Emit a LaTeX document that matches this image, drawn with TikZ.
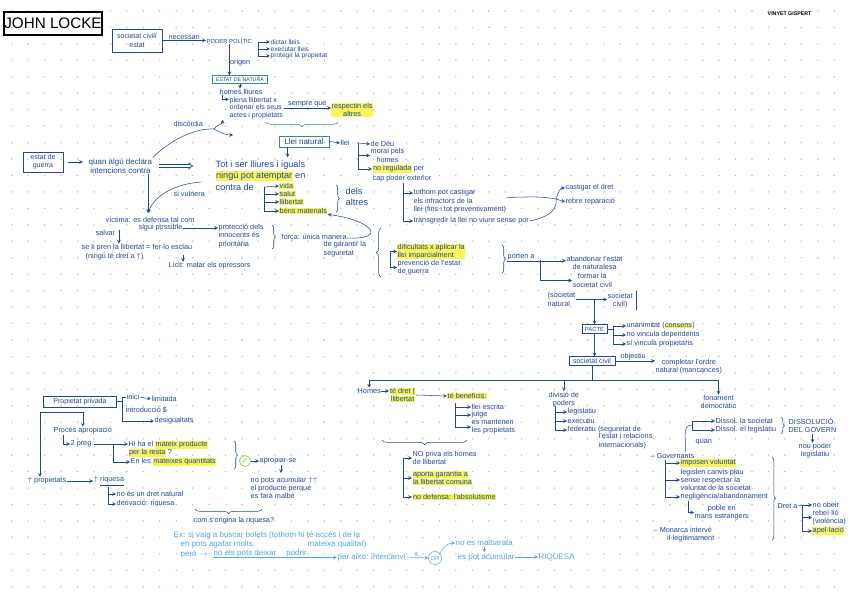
\documentclass[tikz,border=0pt]{standalone}
\usepackage{fontspec}
\setmainfont{Liberation Sans}
\newfontfamily\dejavu{DejaVu Sans}
\usepackage{xcolor}
\usepackage{tikz}
\usetikzlibrary{shapes,arrows,arrows.meta,positioning,fit,backgrounds,decorations.pathreplacing,calc}

\definecolor{ink}{RGB}{34,70,150}
\definecolor{skyc}{RGB}{80,165,235}
\definecolor{hiyel}{RGB}{248,245,90}
\definecolor{grn}{RGB}{50,145,110}
\definecolor{chkgrn}{RGB}{150,200,50}
\definecolor{dotgray}{RGB}{185,185,185}

\newcommand{\hlt}[1]{{\setlength{\fboxsep}{0.3pt}\colorbox{hiyel}{#1}}}

\begin{document}
\begin{tikzpicture}[x=0.3mm, y=-0.3mm, >=stealth, color=ink, line width=0.45pt,
  lbl/.style={font=\fontsize{6.2}{7}\selectfont, text=ink, inner sep=0.4pt, align=left},
  txt/.style={lbl, anchor=west},
  hl/.style={txt, fill=hiyel},
  bbox/.style={draw=ink, line width=0.6pt, font=\fontsize{6}{7}\selectfont, text=ink, inner sep=1pt, align=center},
  gbox/.style={draw=grn, line width=0.6pt, text=ink, inner sep=0.5pt, align=center},
  big/.style={font=\fontsize{7.8}{9}\selectfont},
  exnote/.style={txt, text=skyc, font=\fontsize{6.8}{8}\selectfont},
  brc/.style={draw=ink, decorate, decoration={brace, amplitude=3pt}}
]
\useasboundingbox (0,0) rectangle (848,599);
\fill[white] (0,0) rectangle (848,599);
% dot grid
\foreach \i in {0,...,50}
  \foreach \j in {0,...,35}
    \fill[dotgray] ({11.7+16.45*\i},{11+16.45*\j}) circle (0.8);

% title
\node[draw=black, line width=0.9pt, text=black, font=\fontsize{13}{14}\selectfont,
  minimum width=29.4mm, minimum height=6.9mm, inner sep=0] (title) at (53,23.5) {JOHN LOCKE};
\node[txt, text=black, font=\fontsize{4.5}{5}\selectfont\bfseries] (author) at (767,14) {VINYET GISPERT};

% poder politic
\node[bbox, minimum width=15mm, minimum height=6.9mm] (estat) at (137,40.5) {societat civil/\\estat};
\node[txt, font=\fontsize{5}{6}\selectfont] (poder) at (206,41) {PODER POLÍTIC};
\draw[->] (estat.east) -- node[above, lbl] {necessari} (estat.east -| poder.west);
\coordinate (pob) at (258,42);
\node[txt, font=\fontsize{5.6}{6}\selectfont] (dictar) at (270,42) {dictar lleis};
\node[txt, font=\fontsize{5.6}{6}\selectfont] (execl) at (270,49) {executar lleis};
\node[txt, font=\fontsize{5.6}{6}\selectfont] (protegir) at (270,56) {protegir la propietat};
\draw[->] (pob) -- (dictar.west);
\draw[->] (pob) |- (execl.west);
\draw[->] (pob) |- (protegir.west);

% estat de natura
\node[gbox, minimum width=16.5mm, minimum height=2.3mm, font=\fontsize{4.5}{5}\selectfont] (ednat) at (240,79.5) {ESTAT DE NATURA};
\draw[->] (poder.south) -- node[right, lbl, pos=0.6] {origen} (poder.south |- ednat.north);
\node[txt] (hlliures) at (219,92) {homes lliures};
\draw[->] (ednat.south) -- (ednat.south |- hlliures.north);
\node[txt, font=\fontsize{6}{6.6}\selectfont] (plena) at (229,108) {plena llibertat x\\ordenar els seus\\actes i propietats};
\draw[->] ($(hlliures.south west)+(3,0)$) |- ($(plena.north west)+(0,3)$);
\node[hl, align=center] (respect) at (331,110) {respectin els\\altres};
\draw[->] (plena.east) -- node[above, lbl] {sempre que} (plena.east -| respect.west);
\draw[brc, draw=grn, decoration={brace, mirror, amplitude=4pt}] (266,122) -- (338,122);

% llei natural
\node[gbox, font=\fontsize{6.8}{7}\selectfont, minimum width=15mm, minimum height=3.3mm] (llnat) at (304,141.5) {Llei natural};
\draw[->] ($(llnat.south west)+(9,0)$) -- ++(0,10);
\node[txt] (llei) at (340,143) {llei};
\draw[->] (llnat.east) -- (llei.west);
\coordinate (lleib) at (358,143);
\node[txt] (deu) at (370,144) {de Déu};
\node[txt, align=center] (moral) at (370,155.5) {moral pels\\homes};
\node[txt] (noreg) at (372,169) {\hlt{no regulada} per};
\node[txt] (cap) at (372,179) {cap poder exterior};
\draw[->] (lleib) -- (deu.west);
\draw[->] (lleib) |- (moral.west);
\draw[->] (lleib) |- (noreg.west);
\node[txt] (tot1) at (413,193) {tothom pot castigar};
\node[txt, anchor=north west] (tot2) at (tot1.south west) {els infractors de la\\llei (fins i tot preventivament)};
\node[txt] (transg) at (413,221) {transgredir la llei no viure sense por};
\draw[->] (cap.south -| 403,0) |- (tot1.west);
\draw[->] (cap.south -| 403,0) |- (transg.west);
\coordinate (fk) at (556,199);
\draw ($(tot2.east)+(0,-8)$) to[out=0,in=170] (fk);
\draw (transg.east) to[out=10,in=-80] (fk);
\node[txt] (cast) at (565,188) {castigar el dret};
\node[txt] (rebre) at (565,202) {rebre reparació};
\draw[->] (fk) to[out=70,in=180] (cast.west);
\draw[->] (fk) -- (rebre.west);

% tot i ser lliures
\node[txt, big] (tot) at (215,165) {Tot i ser lliures i iguals};
\node[txt, big] (ningu) at (215,176) {\hlt{ningú pot atemptar} en};
\node[txt, big] (contra) at (215,187) {contra de};
\coordinate (cdb) at (264,187);
\node[hl] (vida) at (279,186) {vida};
\node[hl] (salut) at (279,194) {salut};
\node[hl] (llib) at (279,202) {llibertat};
\node[hl] (bens) at (279,211) {béns materials};
\draw[->] (cdb) -- (vida.west);
\draw[->] (cdb) |- (salut.west);
\draw[->] (cdb) |- (llib.west);
\draw[->] (cdb) |- (bens.west);
\draw[brc] (336,185) -- (336,212);
\node[txt, big] (dels) at (345,197) {dels\\altres};

% estat de guerra
\node[bbox, minimum width=12mm, minimum height=6mm] (guerra) at (43,162) {estat de\\guerra};
\node[txt, align=center, font=\fontsize{6.8}{8}\selectfont] (quan) at (88,166) {quan algú declara\\intencions contra};
\draw[->, shorten <=1.5mm, shorten >=1.5mm] (guerra.east) -- (guerra.east -| quan.west);
\draw[double=white, draw=ink, line width=0.6pt, double distance=1.6pt, -Implies, shorten <=2mm, shorten >=6.5mm] (quan.east) -- (quan.east -| tot.west);
\coordinate (disc) at (214,129);
\draw (quan.north east) .. controls (170,140) and (195,128) .. (disc);
\draw[->] (disc) to[out=60,in=-100] ($(plena.south west)+(-6,0)$);
\draw[->] (disc) to[out=-30,in=180] ++(19,6);
\node[txt] (discl) at (173,124) {discòrdia};
\coordinate (vict) at (148,213);
\draw[->] (quan.south -| vict) -- (vict);
\coordinate (vulst) at (201,182);
\draw[->] (vulst) .. controls (175,184) and (155,195) .. (vict);
\node[txt] (vuln) at (173,194) {si vulnera};
\node[txt] (vic1) at (105,220) {víctima: es defensa tal com};
\node[txt] (vic2) at (138,228) {sigui possible};
\node[txt] (prot) at (218,236) {protecció dels\\innocents és\\prioritària};
\draw[->] (vic2.east) -- (vic2.east -| prot.west);
\draw[brc] (272,225) -- (272,249);
\node[txt] (forca1) at (281,238) {força: única manera};
\node[txt, anchor=north west] (forca2) at (323,241) {de garantir la\\seguretat};
\draw[->] (forca1.east) .. controls (388,240) and (372,220) .. (bens.south east);
\node[txt] (salvar) at (95,233) {salvar};
\node[txt] (pren) at (81,248) {se li pren la llibertat = fer-lo esclau};
\node[txt] (ningudret) at (85,257) {(ningú té dret a $\uparrow$)};
\draw[->] ($(salvar.north east)+(3,0)$) -- ++(0,14);
\node[txt] (licit) at (168,266) {Lícit: matar els opressors};
\draw[->] ($(licit.north west)+(15,-7)$) -- ($(licit.north west)+(15,0)$);

% dificultats
\draw[brc, decoration={brace, amplitude=4pt}] (381,277) -- (381,228);
\coordinate (dpb) at (390,259);
\node[hl] (difi) at (397,251.5) {dificultats x aplicar la\\llei imparcialment};
\node[txt] (prev) at (397,267.5) {prevenció de l'estat\\de guerra};
\draw[->] (dpb) |- (difi.west);
\draw[->] (dpb) |- (prev.west);
\draw[brc] (502,245) -- (502,273);
\node[txt] (porten) at (507,257) {porten a};
\node[txt, align=center] (aband) at (566,263) {abandonar l'estat\\de naturalesa};
\draw[->] (porten.south west) -- (porten.south west -| aband.west);
\coordinate (pab) at (540,260);
\node[txt, align=center] (formar) at (572,280.5) {formar la\\societat civil};
\draw[->] (pab) |- (formar.west);
\node[txt] (socnat) at (547,299.5) {(societat\\natural};
\node[txt, align=center] (socciv) at (607,300.5) {societat\\civil)};
\draw[->] (socnat.east) -- (socnat.east -| socciv.west);
\draw ($(socciv.north east)+(3,-1)$) -- ($(socciv.south east)+(3,1)$);

% pacte
\node[bbox, minimum width=7.5mm, minimum height=2.5mm, font=\fontsize{5}{5}\selectfont] (pacte) at (594.5,329) {PACTE};
\draw[->] (pacte.north |- socnat.east) -- (pacte.north);
\node[txt] (unan) at (626,326) {unanimitat (\hlt{consens})};
\node[txt] (nodep) at (626,335) {no vincula dependents};
\node[txt] (sivinc) at (626,344) {sí vincula propietaris};
\draw[->] (pacte.east) -- ++(6,0) |- (unan.west);
\draw[->] (pacte.east) -- ++(6,0) |- (nodep.west);
\draw[->] (pacte.east) -- ++(6,0) |- (sivinc.west);
\node[bbox, minimum width=13.8mm, minimum height=2.5mm] (socc) at (592,361) {societat civil};
\draw[->] (pacte.south) -- (pacte.south |- socc.north);
\node[txt, align=center] (compl) at (655,366.5) {completar l'ordre\\natural (mancances)};
\draw[->] (socc.east) -- node[above, lbl, pos=0.45] {objectiu} (socc.east -| compl.west);

% branches of societat civil
\draw (socc.south) -- ++(0,15) coordinate (hz);
\node[txt] (homes) at (357,391) {Homes};
\node[txt, align=center] (divis) at (548,399.5) {divisió de\\poders};
\node[txt, align=center] (fonam) at (700,402) {fonament\\democràtic};
\draw[->] (hz) -| (homes.north);
\draw[->] (hz) -| (divis.north);
\draw[->] (hz) -| (fonam.north);

\node[txt, align=center] (tedret) at (389,395) {\hlt{té dret (}\\\hlt{llibertat}};
\draw[->] (homes.east) -- (homes.east -| tedret.west);
\node[hl] (benef) at (447,396) {té beneficis:};
\draw[->] (tedret.east) -- (benef.west);
\coordinate (bb) at (455,403);
\node[txt] (lleiesc) at (471,407) {llei escrita};
\node[txt] (jutge) at (471,415) {jutge};
\node[txt] (mant) at (471,427) {es mantenen\\les propietats};
\draw[->] (bb) |- (lleiesc.west);
\draw[->] (bb) |- (jutge.west);
\draw[->] (bb) |- (mant.west);
\draw[brc, decoration={brace, mirror, amplitude=4pt}] (382,440) -- (467,440);
\coordinate (nb) at (403,470);
\node[txt] (npriva) at (412,458) {NO priva els homes\\de llibertat};
\node[txt] (aporta) at (412,478) {\hlt{aporta garantia a}\\\hlt{la llibertat comuna}};
\node[txt] (nodef) at (412,497) {\hlt{no defensa: l'absolutisme}};
\draw[->] (nb) |- (npriva.west);
\draw[->] (nb) |- (aporta.west);
\draw[->] (nb) |- (nodef.west);

\coordinate (db) at (555,406);
\node[txt] (legis) at (567,412) {legislatiu};
\node[txt] (execu) at (567,421) {executiu};
\node[txt] (feder) at (567,430) {federatiu (seguretat de};
\node[txt, anchor=north west] (feder2) at (598,433) {l'estat i relacions\\internacionals)};
\draw[->] (db) |- (legis.west);
\draw[->] (db) |- (execu.west);
\draw[->] (db) |- (feder.west);

\node[txt] (dsoc) at (715,421) {Dissol. la societat};
\node[txt] (dleg) at (715,430) {Dissol. el legislatiu};
\coordinate (qb) at (692,425);
\draw[->] (qb) |- (dsoc.west);
\draw[->] (qb) |- (dleg.west);
\draw[brc] (781,417) -- (781,434);
\node[txt] (dgov) at (788,425.5) {DISSOLUCIÓ\\DEL GOVERN};
\node[txt, align=center] (nou) at (798,451) {nou poder\\legislatiu};
\draw[->] (dgov.south) -- (dgov.south |- nou.north);
\node[txt] (gov) at (650,456) {-- Governants};
\draw ($(gov.north east)+(-10,0)$) to[out=80,in=180] (qb);
\node[txt] (quanl) at (695,442) {quan};
\coordinate (gb) at (665,460);
\node[hl] (impos) at (680,463) {imposen voluntat};
\node[txt] (legisl) at (680,480) {legislen canvis plau\\sense respectar la\\voluntat de la societat};
\node[txt] (negl) at (680,497) {negligència/abandonament};
\draw[->] (gb) |- (impos.west);
\draw[->] (gb) |- (legisl.west);
\draw[->] (gb) |- (negl.west);
\node[txt, align=center] (poble) at (694,512.5) {poble en\\mans estrangers};
\draw[->] ($(negl.south west)+(8,0)$) |- (poble.west);
\node[txt] (monarca) at (653,534.5) {-- Monarca intervé\\\hspace{4mm}il·legítimament};
\draw[brc] (772,457) -- (772,540);
\node[txt] (dreta) at (777,506) {Dret a};
\coordinate (rb) at (802,505);
\draw (dreta.east) -- (rb);
\node[txt] (obeir) at (812,505) {no obeir};
\node[txt] (rebel) at (812,517.5) {rebel·lió\\(violència)};
\node[hl] (apel) at (812,531) {apel·lació};
\draw[->] (rb) -- (obeir.west);
\draw[->] (rb) |- (rebel.west);
\draw[->] (rb) |- (apel.west);

% propietat privada
\node[bbox, minimum width=22mm, minimum height=3.3mm] (pp) at (80,401.5) {Propietat privada};
\coordinate (ppb) at (122,401.5);
\node[txt] (inici) at (126,397) {inici};
\node[txt] (limit) at (151,399) {limitada};
\node[txt] (intro) at (125,410) {introducció \$};
\node[txt] (desig) at (154,421) {desigualtats};
\draw (pp.east) -- (ppb);
\draw (ppb) |- (inici.west);
\draw[->] (ppb) |- (desig.west);
\draw[->] (inici.east) -- (limit.west);
\coordinate (pl) at (40,412);
\node[txt] (proces) at (53,431) {Procés apropiació};
\node[txt] (props) at (27,481) {$\uparrow$ propietats};
\draw[->] (pl) -- (pl |- props.north);
\draw[->] (pl) -| (proces.north);
\node[txt] (preg) at (70,444) {2 preg.};
\draw[->] ($(proces.south west)+(10,0)$) |- (preg.west);
\coordinate (pgb) at (113,444);
\node[txt] (hiha) at (128,449) {Hi ha el \hlt{mateix producte}\\\hlt{per la resta} ?};
\node[txt] (enles) at (130,462) {En les \hlt{mateixes quantitats}};
\draw (preg.east) -- (pgb);
\draw[->] (pgb) -- (pgb -| hiha.west);
\draw[->] (pgb) |- (enles.west);
\draw[brc] (234,441) -- (234,469);
\node[circle, draw=chkgrn, text=chkgrn, line width=0.6pt, inner sep=0.3pt, minimum size=3.3mm,
  font=\dejavu\fontsize{7}{7}\selectfont] (chk) at (245,461) {✓};
\node[txt] (aprop) at (259,461) {apropiar-se};
\draw[->] (chk.east) -- (aprop.west);
\node[txt] (nopots) at (250,488) {no pots acumular $\uparrow\uparrow$\\el producte perquè\\es farà malbé};
\draw[->] ($(aprop.south west)+(22,0)$) -- ++(0,8);
\node[txt] (riq) at (93,481) {$\uparrow$ \underline{riquesa}};
\draw[->] (props.east) -- (riq.west);
\coordinate (rqb) at (108,487);
\node[txt] (nodret) at (116,494) {no és un dret natural};
\node[txt] (deriv) at (116,504) {derivació: riquesa};
\draw[->] (rqb) |- (nodret.west);
\draw[->] (rqb) |- (deriv.west);
\draw[brc, decoration={brace, mirror, amplitude=4pt}] (195,509) -- (262,509);
\node[txt] (comsor) at (193,521) {com s'origina la riquesa?};

% example in light blue
\node[exnote] (ex1) at (173,535) {Ex: si vaig a buscar bolets (tothom hi té accés i de la};
\node[exnote] (ex2) at (180,544) {en pots agafar molts,};
\node[exnote] (ex2b) at (307,544) {mateixa qualitat)};
\node[exnote] (ex3) at (180,554) {però $\rightarrow$};
\node[exnote] (ex3b) at (213,553) {no els pots deixar \quad podrir};
\node[exnote] (peraixo) at (337,557) {per això: intercanvi};
\draw[->, skyc] (ex3b.south west) -- (ex3b.south west -| peraixo.west);
\node[circle, draw=skyc, text=skyc, inner sep=0.3pt, minimum size=3.9mm, font=\fontsize{5}{5}\selectfont] (orc) at (435,558) {OR};
\draw[->, skyc] (peraixo.east) -- node[above, lbl, text=skyc] {x.} (orc.west);
\node[exnote] (nomalb) at (455,543) {no es malbarata};
\node[exnote] (espot) at (457,557) {es pot acumular};
\node[exnote] (riqs) at (538,557) {RIQUESA};
\draw[->, skyc] (orc.north east) to[out=60,in=180] (nomalb.west);
\draw[->, skyc] (nomalb.south) -- (nomalb.south |- espot.north);
\draw[->, skyc] (espot.east) -- (riqs.west);
\end{tikzpicture}
\end{document}
